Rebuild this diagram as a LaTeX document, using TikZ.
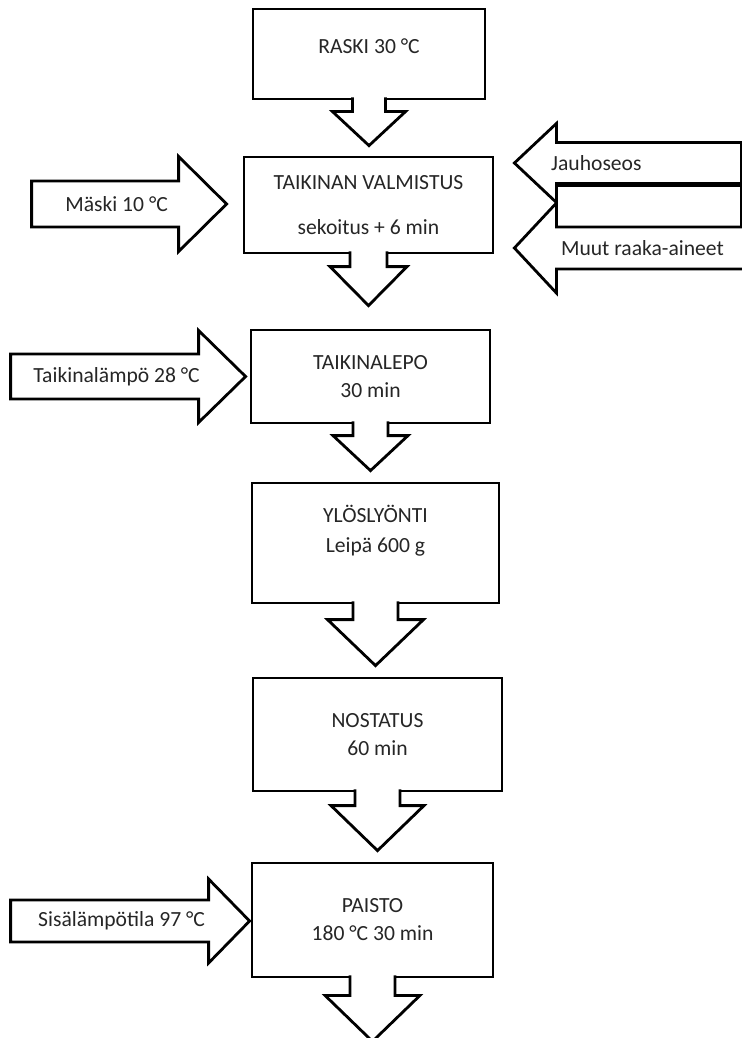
\documentclass[tikz,border=0pt]{standalone}
\usepackage{fontspec}
\setmainfont{Carlito}
\usetikzlibrary{calc}

\tikzset{
  stepbox/.style={draw, line width=1.4pt, fill=white, align=center, inner sep=0pt,
    text=black!85, font=\fontsize{10.8}{14}\selectfont},
  blockline/.style={draw, line width=1.4pt, fill=white, line join=miter},
  arrowtext/.style={inner sep=0pt, text=black!85, font=\fontsize{10.8}{14}\selectfont}
}

% block arrow: start, tip, half shaft width, half head width, head length, path end
\newcommand{\blockarrow}[6]{%
  \coordinate (ba-h) at ($(#2)!#5!(#1)$);
  \draw[blockline] ($(#1)!#3!90:(#2)$) -- ($(ba-h)!#3!90:(#2)$)
    -- ($(ba-h)!#4!90:(#2)$) -- (#2) -- ($(ba-h)!#4!-90:(#2)$)
    -- ($(ba-h)!#3!-90:(#2)$) -- ($(#1)!#3!-90:(#2)$) #6;
}

\begin{document}
\begin{tikzpicture}[x=0.5pt,y=-0.5pt]
  \path[use as bounding box, fill=white] (0,0) rectangle (742,1038);

  % process steps
  \node[stepbox, minimum width=116pt, minimum height=45pt] (raski) at (369,54) {RASKI 30 °C\\[-6.5pt]\mbox{}};
  \node[stepbox, minimum width=124.5pt, minimum height=48pt] (taik) at (368.5,205) {TAIKINAN VALMISTUS\\[8.5pt]sekoitus + 6 min};
  \node[stepbox, minimum width=119.5pt, minimum height=46.5pt] (lepo) at (370.5,376.5) {TAIKINALEPO\\30 min};
  \node[stepbox, minimum width=123.5pt, minimum height=60pt] (ylos) at (375.5,543) {YLÖSLYÖNTI\\[1pt]Leipä 600 g\\\mbox{}};
  \node[stepbox, minimum width=124.5pt, minimum height=56.5pt] (nost) at (377.5,734.5) {NOSTATUS\\60 min};
  \node[stepbox, minimum width=120.5pt, minimum height=57pt] (paisto) at (372.5,920) {PAISTO\\180 °C 30 min};

  % arrows between steps
  \foreach \src/\dst/\gap/\sw/\hw/\hl in {raski/taik/10/8.25/18.25/17, taik/lepo/23/9.25/19.25/19.5,
      lepo/ylos/11/8.75/18.75/17.5, ylos/nost/11/11.25/24/23, nost/paisto/11/11.25/23.25/22.5}{
    \coordinate (s) at ($(\src.south)+(0,-3)$);
    \coordinate (t) at ($(\src.south |- \dst.north)+(0,-\gap)$);
    \blockarrow{s}{t}{\sw pt}{\hw pt}{\hl pt}{}
  }
  \coordinate (finish) at ($(paisto.south)+(0,63)$);
  \coordinate (s) at ($(paisto.south)+(0,-3)$);
  \blockarrow{s}{finish}{11.25pt}{23.75pt}{23pt}{}

  % inputs from the left
  \coordinate (maski-tip) at ($(taik.west)+(-16,-1)$);
  \coordinate (maski-start) at ($(maski-tip)+(-195,0)$);
  \blockarrow{maski-start}{maski-tip}{11.5pt}{23.75pt}{24pt}{-- cycle}
  \node[arrowtext] (maski) at ($(maski-tip)+(-110,0)$) {Mäski 10 °C};

  \coordinate (lampo-tip) at ($(lepo.west)+(-4,0)$);
  \coordinate (lampo-start) at ($(lampo-tip)+(-235,0)$);
  \blockarrow{lampo-start}{lampo-tip}{11.25pt}{23pt}{23.5pt}{-- cycle}
  \node[arrowtext] (lampo) at ($(lampo-tip)+(-129,0)$) {Taikinalämpö 28 °C};

  \coordinate (sisa-tip) at ($(paisto.west)+(-1,1)$);
  \coordinate (sisa-start) at ($(sisa-tip)+(-239,0)$);
  \blockarrow{sisa-start}{sisa-tip}{10.5pt}{21pt}{20.5pt}{-- cycle}
  \node[arrowtext] (sisa) at ($(sisa-tip)+(-128,0)$) {Sisälämpötila 97 °C};

  % inputs from the right
  \coordinate (jauho-tip) at ($(taik.east)+(20,-42)$);
  \coordinate (jauho-start) at ($(jauho-tip)+(227,0)$);
  \coordinate (muut-tip) at ($(taik.east)+(20,43)$);
  \coordinate (muut-start) at ($(muut-tip)+(257,0)$);
  \draw[blockline] ($(jauho-tip)+(42,23)$) rectangle ($(jauho-tip)+(227,64)$);
  \blockarrow{jauho-start}{jauho-tip}{10.25pt}{19.75pt}{21pt}{-- cycle}
  \blockarrow{muut-start}{muut-tip}{10.5pt}{22.5pt}{21pt}{-- cycle}
  \node[arrowtext] (jauho) at ($(jauho-tip)+(82,0)$) {Jauhoseos};
  \node[arrowtext] (muut) at ($(muut-tip)+(128,0)$) {Muut raaka-aineet};
\end{tikzpicture}
\end{document}
